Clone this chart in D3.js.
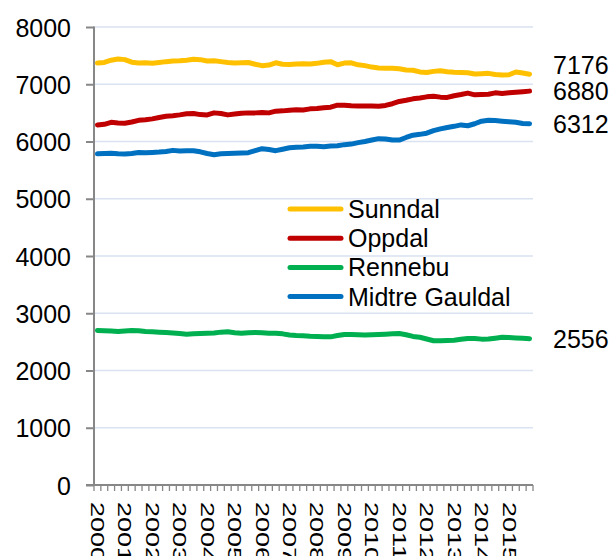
<!DOCTYPE html>
<html><head><meta charset="utf-8">
<script src="https://cdn.jsdelivr.net/npm/d3@7"></script>
<style>body{margin:0;background:#fff}svg{display:block}text{font-family:"Liberation Sans",Arial,sans-serif;fill:#000}</style>
</head><body><svg id="c" width="614" height="556"></svg>
<script>
const years = ["2000","2001","2002","2003","2004","2005","2006","2007","2008","2009","2010","2011","2012","2013","2014","2015"];
const quarterSuffix = ["K1","K2","K3","K4"];
const seriesNames = ["Sunndal","Oppdal","Rennebu","Midtre Gauldal"];
const seriesColors = ["#FFC000","#C00000","#00B050","#0070C0"];
const yTicks = [0,1000,2000,3000,4000,5000,6000,7000,8000];

const sunndal = [7370,7380,7420,7440,7430,7385,7370,7375,7365,7380,7395,7405,7410,7420,7435,7430,
 7405,7410,7395,7380,7370,7375,7380,7350,7325,7335,7375,7350,7345,7355,7360,7355,
 7365,7385,7395,7340,7370,7375,7340,7325,7300,7285,7280,7278,7270,7250,7245,7215,
 7205,7225,7235,7220,7210,7205,7200,7180,7185,7190,7170,7160,7165,7215,7195,7176];
const oppdal = [6290,6300,6335,6325,6320,6340,6370,6380,6395,6420,6440,6450,6465,6485,6490,6470,
 6465,6500,6490,6465,6480,6495,6500,6500,6505,6500,6530,6535,6545,6555,6550,6570,
 6575,6590,6600,6635,6635,6625,6620,6620,6618,6615,6630,6660,6700,6720,6745,6760,
 6780,6790,6775,6770,6800,6820,6845,6815,6820,6825,6850,6840,6850,6860,6870,6880];
const rennebu = [2700,2695,2690,2680,2690,2700,2695,2680,2675,2668,2662,2655,2645,2635,2640,2645,
 2650,2655,2670,2678,2660,2650,2660,2665,2660,2650,2652,2640,2620,2610,2605,2598,
 2595,2590,2588,2610,2630,2630,2625,2622,2625,2630,2635,2640,2645,2625,2595,2580,
 2550,2520,2520,2525,2530,2545,2560,2558,2548,2550,2565,2580,2575,2568,2562,2556];
const midtreGauldal = [5785,5790,5795,5785,5780,5790,5808,5805,5810,5815,5825,5845,5835,5840,5840,5820,
 5790,5770,5785,5790,5795,5800,5805,5840,5875,5860,5840,5865,5890,5900,5905,5915,
 5915,5910,5920,5925,5945,5955,5980,6000,6025,6050,6045,6025,6025,6070,6110,6125,
 6145,6190,6220,6245,6265,6290,6275,6310,6355,6370,6365,6355,6345,6335,6315,6312];

const quarters = years.flatMap(y => quarterSuffix.map(q => y + q));
const seriesValues = [sunndal, oppdal, rennebu, midtreGauldal];

const svg = d3.select("#c");
const L = 94, R = 533, T = 27, B = 485;
const x = d3.scaleBand().domain(quarters).range([L, R]).padding(0);
const cx = q => x(q) + x.bandwidth() / 2;
const y = d3.scaleLinear().domain([0, 8000]).range([B, T]);
const FS = 25;

// gridlines
svg.append("g").selectAll("line").data(yTicks.filter(v => v > 0)).join("line")
  .attr("x1", L).attr("x2", R).attr("y1", d => y(d)).attr("y2", d => y(d))
  .attr("stroke", "#D9E2F0").attr("stroke-width", 1.5);

// y axis
const yAxis = svg.append("g").attr("transform", `translate(${L},0)`)
  .call(d3.axisLeft(y).tickValues(yTicks).tickSize(8).tickPadding(15).tickFormat(d3.format("d")));
yAxis.select(".domain").attr("stroke", "#878787").attr("stroke-width", 2).attr("d", `M0,${T-0.5}V${B}`);
yAxis.selectAll(".tick line").attr("stroke", "#878787").attr("stroke-width", 2);
yAxis.selectAll(".tick text").attr("font-size", FS).attr("font-family", "Liberation Sans, Arial, sans-serif").attr("fill", "#000").attr("dy", "0.36em");

// x axis
const xg = svg.append("g").attr("transform", `translate(0,${B})`);
xg.append("line").attr("x1", L - 8).attr("x2", R).attr("stroke", "#878787").attr("stroke-width", 2);
const boundaries = quarters.map(q => x(q)).concat([R]);
xg.selectAll("line.tk").data(boundaries).join("line").attr("class", "tk")
  .attr("x1", d => d).attr("x2", d => d).attr("y1", 0).attr("y2", 6)
  .attr("stroke", "#878787").attr("stroke-width", 1.3);
xg.selectAll("g.lbl").data(quarters.filter((q, i) => i % 4 === 0)).join("g").attr("class", "lbl")
  .attr("transform", q => `translate(${cx(q)},17) rotate(90) scale(1.08,0.72)`)
  .append("text").attr("font-size", FS).attr("dy", "0.36em").attr("text-anchor", "start").text(q => q);

// lines
const line = d3.line().x((d, i) => cx(quarters[i])).y(d => y(d)).curve(d3.curveLinear);
svg.append("g").selectAll("path").data(seriesValues).join("path")
  .attr("d", d => line(d)).attr("fill", "none")
  .attr("stroke", (d, i) => seriesColors[i]).attr("stroke-width", 5)
  .attr("stroke-linejoin", "round").attr("stroke-linecap", "round");

// end labels with overlap avoidance
const ends = seriesValues.map((s, i) => ({ v: s[s.length - 1], y: y(s[s.length - 1]) }));
const sorted = ends.slice().sort((a, b) => a.y - b.y);
const gap = 26;
for (let i = sorted.length - 2; i >= 0; i--) {
  if (sorted[i].y > sorted[i + 1].y - gap) sorted[i].y = sorted[i + 1].y - gap;
}
svg.append("g").selectAll("text").data(ends).join("text")
  .attr("x", R + 20).attr("y", d => d.y).attr("dy", "0.36em")
  .attr("font-size", FS).text(d => d.v);

// legend
const lg = svg.append("g").attr("transform", "translate(288,209)");
const rows = lg.selectAll("g").data(seriesNames).join("g").attr("transform", (d, i) => `translate(0,${i * 29.2})`);
rows.append("line").attr("x1", 2).attr("x2", 53).attr("stroke", (d, i) => seriesColors[i])
  .attr("stroke-width", 5).attr("stroke-linecap", "round");
rows.append("text").attr("x", 60).attr("dy", "0.36em").attr("font-size", FS).text(d => d);
</script></body></html>
